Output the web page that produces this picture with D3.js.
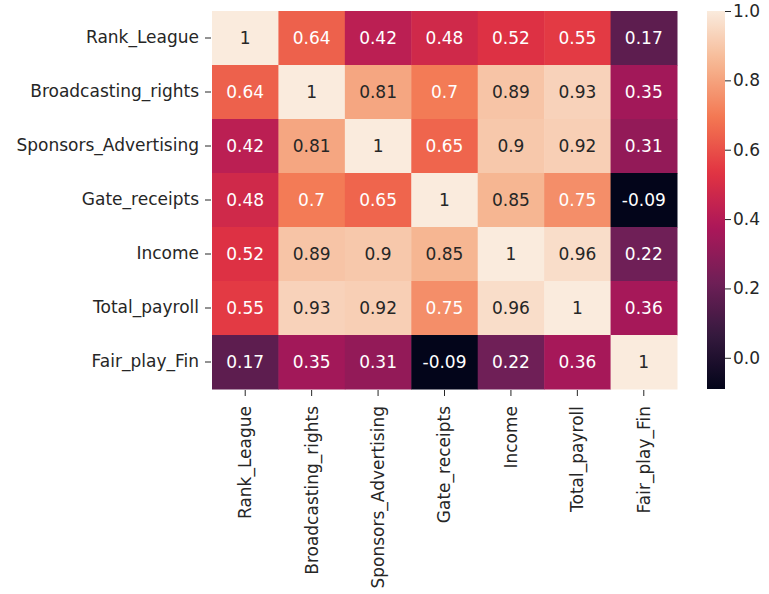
<!DOCTYPE html>
<html>
<head>
<meta charset="utf-8">
<script src="https://cdn.jsdelivr.net/npm/d3@7"></script>
<style>
  body { margin: 0; background: #fff; }
  svg { display: block; }
  text { font-family: "DejaVu Sans", sans-serif; }
</style>
</head>
<body>
<svg id="chart" width="769" height="594"></svg>
<script>
const labels = ["Rank_League", "Broadcasting_rights", "Sponsors_Advertising", "Gate_receipts", "Income", "Total_payroll", "Fair_play_Fin"];
const row0 = [1, 0.64, 0.42, 0.48, 0.52, 0.55, 0.17];
const row1 = [0.64, 1, 0.81, 0.7, 0.89, 0.93, 0.35];
const row2 = [0.42, 0.81, 1, 0.65, 0.9, 0.92, 0.31];
const row3 = [0.48, 0.7, 0.65, 1, 0.85, 0.75, -0.09];
const row4 = [0.52, 0.89, 0.9, 0.85, 1, 0.96, 0.22];
const row5 = [0.55, 0.93, 0.92, 0.75, 0.96, 1, 0.36];
const row6 = [0.17, 0.35, 0.31, -0.09, 0.22, 0.36, 1];
const matrix = [row0, row1, row2, row3, row4, row5, row6];
const colorbarTicks = [0.0, 0.2, 0.4, 0.6, 0.8, 1.0];

// approximation of seaborn "rocket" colormap
const rocket = ["#03051a", "#35193e", "#701f57", "#ad1759", "#e13342", "#f37651", "#f6b48f", "#faebdd"];

const FS = 17;
const svg = d3.select("#chart");
const mLeft = 212, mTop = 11, plotW = 465, plotH = 378;

const x = d3.scaleBand().domain(labels).range([mLeft, mLeft + plotW]).padding(0);
const y = d3.scaleBand().domain(labels).range([mTop, mTop + plotH]).padding(0);

const all = matrix.flat();
const vmin = d3.min(all), vmax = d3.max(all);
const color = d3.scaleLinear()
  .domain(rocket.map((_, i) => vmin + (vmax - vmin) * i / (rocket.length - 1)))
  .range(rocket)
  .interpolate(d3.interpolateRgb)
  .clamp(true);

function lum(c) {
  const rgb = d3.rgb(c);
  const f = v => { v /= 255; return v <= 0.03928 ? v / 12.92 : Math.pow((v + 0.055) / 1.055, 2.4); };
  return 0.2126 * f(rgb.r) + 0.7152 * f(rgb.g) + 0.0722 * f(rgb.b);
}

const cells = [];
matrix.forEach((row, i) => row.forEach((v, j) => cells.push({ r: labels[i], c: labels[j], v })));

const g = svg.append("g");
g.selectAll("rect.cell").data(cells).join("rect")
  .attr("class", "cell")
  .attr("x", d => x(d.c))
  .attr("y", d => y(d.r))
  .attr("width", x.bandwidth() + 0.5)
  .attr("height", y.bandwidth() + 0.5)
  .attr("fill", d => color(d.v));

g.selectAll("text.annot").data(cells).join("text")
  .attr("class", "annot")
  .attr("x", d => x(d.c) + x.bandwidth() / 2)
  .attr("y", d => y(d.r) + y.bandwidth() / 2)
  .attr("text-anchor", "middle")
  .attr("dominant-baseline", "central")
  .attr("font-size", FS)
  .attr("fill", d => lum(color(d.v)) > 0.408 ? "#262626" : "#ffffff")
  .text(d => String(+d.v.toFixed(2)));

// axes
const yAxis = d3.axisLeft(y).tickSize(6).tickPadding(6);
const ya = svg.append("g").attr("transform", `translate(${mLeft - 1},0)`).call(yAxis);
ya.select(".domain").remove();
ya.selectAll("text").attr("font-size", FS).attr("fill", "#262626").style("font-family", "DejaVu Sans, sans-serif");
ya.selectAll("line").attr("stroke", "#262626");

const xAxis = d3.axisBottom(x).tickSize(6).tickPadding(6);
const xa = svg.append("g").attr("transform", `translate(0,${mTop + plotH + 1})`).call(xAxis);
xa.select(".domain").remove();
xa.selectAll("line").attr("stroke", "#262626");
xa.selectAll("text")
  .attr("font-size", FS).attr("fill", "#262626").style("font-family", "DejaVu Sans, sans-serif")
  .attr("transform", "rotate(-90)")
  .attr("text-anchor", "end")
  .attr("dy", "0.35em")
  .attr("x", -16)
  .attr("y", 0);

// colorbar
const cbX = 707, cbW = 18;
const cbScale = d3.scaleLinear().domain([vmin, vmax]).range([mTop + plotH, mTop]);
const defs = svg.append("defs");
const grad = defs.append("linearGradient").attr("id", "cbgrad")
  .attr("x1", 0).attr("y1", 1).attr("x2", 0).attr("y2", 0);
d3.range(0, 1.0001, 0.02).forEach(t => {
  grad.append("stop").attr("offset", t).attr("stop-color", color(vmin + (vmax - vmin) * t));
});
svg.append("rect").attr("x", cbX).attr("y", mTop).attr("width", cbW).attr("height", plotH)
  .attr("fill", "url(#cbgrad)");
const cbAxis = d3.axisRight(cbScale).tickValues(colorbarTicks).tickFormat(d3.format(".1f")).tickSize(6).tickPadding(2);
const ca = svg.append("g").attr("transform", `translate(${cbX + cbW},0)`).call(cbAxis);
ca.select(".domain").remove();
ca.selectAll("line").attr("stroke", "#262626");
ca.selectAll("text").attr("font-size", FS).attr("fill", "#262626").style("font-family", "DejaVu Sans, sans-serif");
</script>
</body>
</html>
